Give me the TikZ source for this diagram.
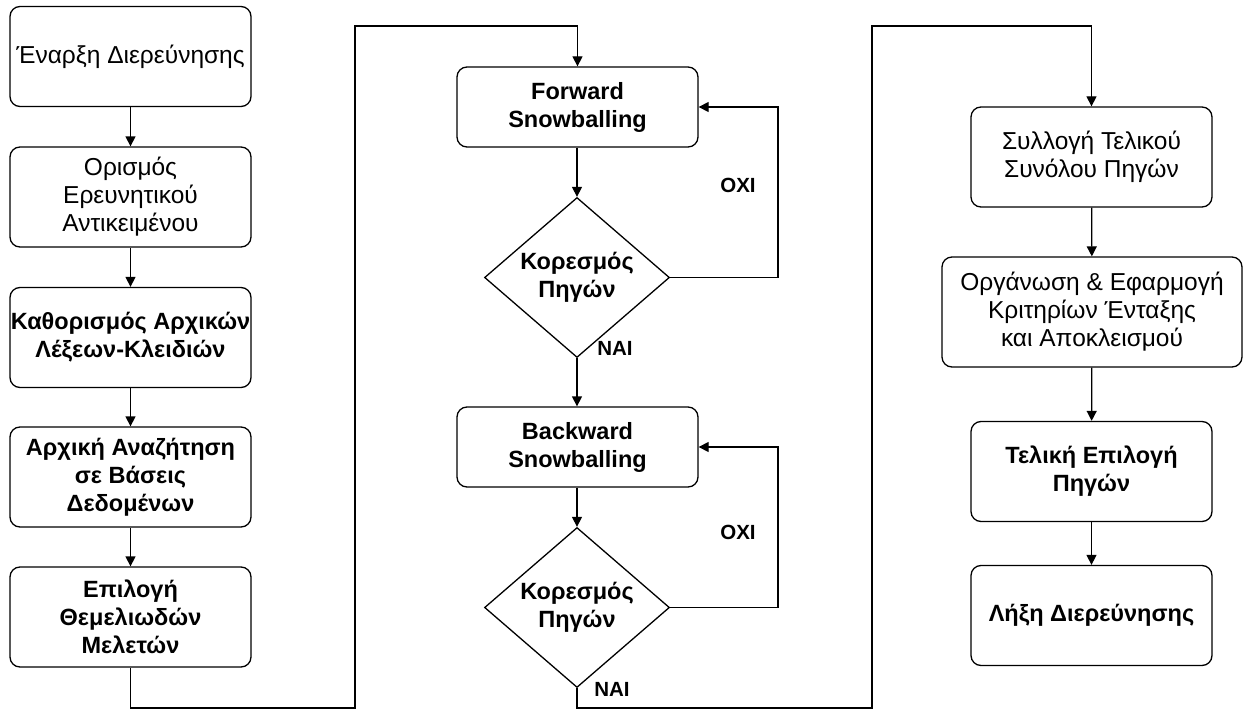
\documentclass[tikz,border=0pt]{standalone}
\usepackage{fontspec}
\setmainfont{Liberation Sans}
\usetikzlibrary{arrows.meta,shapes.geometric}

\begin{document}
\begin{tikzpicture}[x=1pt, y=-1pt, >={Triangle[width=10pt,length=10pt]},
        stagebox/.style={draw, line width=1.3pt, rounded corners=10pt, fill=white, align=center,
          minimum width=241pt, minimum height=100pt, inner sep=0pt, font=\fontsize{24.5}{28}\selectfont},
        boldbox/.style={stagebox, font=\bfseries\fontsize{23.5}{28}\selectfont},
        checkbox/.style={draw, diamond, line width=1.3pt, fill=white, align=center, aspect=1.16,
          minimum width=185pt, minimum height=160pt, inner sep=0pt, font=\bfseries\fontsize{23.5}{28}\selectfont},
        flow/.style={->, line width=1.3pt},
        answer/.style={font=\bfseries\fontsize{20.5}{22}\selectfont}]
        \useasboundingbox (0,0) rectangle (1243,709);
        \node[stagebox] (start) at (130.5,56.5) {Έναρξη Διερεύνησης};
        \node[stagebox] (scope) at (130.5,197) {Ορισμός\\Ερευνητικού\\Αντικειμένου};
        \node[boldbox] (keywords) at (130.5,337.5) {Καθορισμός Αρχικών\\Λέξεων-Κλειδιών};
        \node[boldbox] (search) at (130.5,477) {Αρχική Αναζήτηση\\σε Βάσεις\\Δεδομένων};
        \node[boldbox] (seed) at (130.5,617) {Επιλογή\\Θεμελιωδών\\Μελετών};
        \node[boldbox, minimum height=80pt] (fwd) at (577.5,107) {Forward\\Snowballing};
        \node[checkbox] (satA) at (577,277.5) {Κορεσμός\\Πηγών};
        \node[boldbox, minimum height=80pt] (bwd) at (577.5,447) {Backward\\Snowballing};
        \node[checkbox] (satB) at (577,607.5) {Κορεσμός\\Πηγών};
        \node[stagebox] (collect) at (1091.5,157) {Συλλογή Τελικού\\Συνόλου Πηγών};
        \node[stagebox, minimum width=300pt, minimum height=110pt] (criteria) at (1092,312) {Οργάνωση \& Εφαρμογή\\Κριτηρίων Ένταξης\\και Αποκλεισμού};
        \node[boldbox] (final) at (1091.5,471.5) {Τελική Επιλογή\\Πηγών};
        \node[boldbox] (finish) at (1091.5,615.5) {Λήξη Διερεύνησης};
        \coordinate (lowA) at (355,708);
        \coordinate (topA) at (355,26);
        \coordinate (lowB) at (872,708);
        \coordinate (topB) at (872,26);
        \coordinate (loopF) at (778,107);
        \coordinate (loopB) at (778,447);
        \draw[flow] (start) -- (scope);
        \draw[flow] (scope) -- (keywords);
        \draw[flow] (keywords) -- (search);
        \draw[flow] (search) -- (seed);
        \draw[flow] (seed.south) |- (lowA) -- (topA) -| (fwd.north);
        \draw[flow] (fwd.south -| satA.north) -- (satA.north);
        \draw[flow] (satA.east) -| (loopF) -- (fwd.east);
        \draw[flow] (satA.south) -- (satA.south |- bwd.north);
        \draw[flow] (bwd.south -| satB.north) -- (satB.north);
        \draw[flow] (satB.east) -| (loopB) -- (bwd.east);
        \draw[flow] (satB.south) |- (lowB) -- (topB) -| (collect.north);
        \draw[flow] (collect) -- (criteria);
        \draw[flow] (criteria) -- (final);
        \draw[flow] (final) -- (finish);
        \node[answer] (noA) at (738,185) {OXI};
        \node[answer] (yesA) at (615,348) {NAI};
        \node[answer] (noB) at (738,532) {OXI};
        \node[answer] (yesB) at (612,689) {NAI};
\end{tikzpicture}
\end{document}
